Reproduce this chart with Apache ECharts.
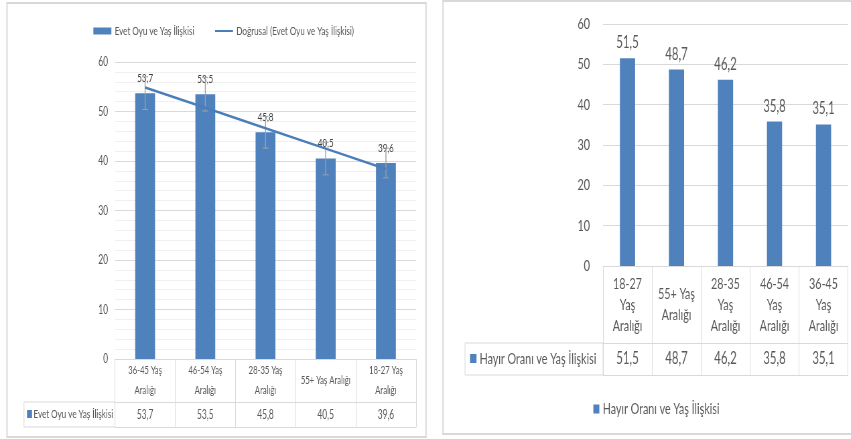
<!DOCTYPE html>
<html>
<head>
<meta charset="utf-8">
<script src="https://cdn.jsdelivr.net/npm/echarts@6/dist/echarts.min.js"></script>
<style>
html,body{margin:0;padding:0;background:#fff;}
#wrap{width:851px;height:439px;overflow:hidden;position:relative;}
#chart{height:439px;transform-origin:0 0;position:absolute;left:0;top:0;}
</style>
</head>
<body>
<div id="wrap"><div id="chart"></div></div>
<script>
// ---- data ----
const evetName = 'Evet Oyu ve Yaş İlişkisi';
const trendName = 'Doğrusal (Evet Oyu ve Yaş İlişkisi)';
const evetCategories = ['36-45 Yaş Aralığı', '46-54 Yaş Aralığı', '28-35 Yaş Aralığı', '55+ Yaş Aralığı', '18-27 Yaş Aralığı'];
const evetValues = [53.7, 53.5, 45.8, 40.5, 39.6];
const evetErrors = [3.3, 3.4, 3.2, 3.3, 3.0];
const hayirName = 'Hayır Oranı ve Yaş İlişkisi';
const hayirCategories = ['18-27 Yaş Aralığı', '55+ Yaş Aralığı', '28-35 Yaş Aralığı', '46-54 Yaş Aralığı', '36-45 Yaş Aralığı'];
const hayirValues = [51.5, 48.7, 46.2, 35.8, 35.1];
const yTicks = {min: 0, max: 60, interval: 10};

// ---- helpers ----
const S = 0.67;                 // horizontal squeeze of the reference picture
const X = v => v / S;
const el = document.getElementById('chart');
el.style.width = X(851) + 'px';
el.style.transform = 'scaleX(' + S + ')';
const fmt = v => v.toFixed(1).replace('.', ',');
const FONT = 'Lato';
const BLUE = '#4f81bd';
const GRID = '#d9d9d9';
const TXT = '#595959';

// greedy word wrap measured with the real font
const ctx = document.createElement('canvas').getContext('2d');
function wrap(text, size, maxW) {
  ctx.font = size + 'px ' + FONT;
  const words = text.split(' ');
  const lines = [];
  let cur = '';
  words.forEach(w => {
    const t = cur ? cur + ' ' + w : w;
    if (cur && ctx.measureText(t).width > maxW) { lines.push(cur); cur = w; }
    else cur = t;
  });
  if (cur) lines.push(cur);
  return lines.join('\n');
}

// linear trend (least squares) of the Evet series
const n = evetValues.length;
const xs = evetValues.map((v, i) => i + 1);
const mx = xs.reduce((a, b) => a + b, 0) / n;
const my = evetValues.reduce((a, b) => a + b, 0) / n;
let sxy = 0, sxx = 0;
xs.forEach((x, i) => { sxy += (x - mx) * (evetValues[i] - my); sxx += (x - mx) * (x - mx); });
const slope = sxy / sxx, icpt = my - slope * mx;
const trendValues = xs.map(x => icpt + slope * x);

const chart = echarts.init(el, null, {renderer: 'canvas'});

function catAxis(grid, data, o) {
  return Object.assign({
    type: 'category', gridIndex: grid, data: data, position: 'bottom',
    axisLine: {show: true, lineStyle: {color: GRID, width: 1}},
    axisTick: {show: false},
    axisLabel: {show: false},
    splitLine: {show: false}
  }, o);
}

const LCAT = 11.5, RCAT = 16;

const option = {
  animation: false,
  textStyle: {fontFamily: FONT},
  legend: [
    {
      data: [{name: evetName, icon: 'rect'}, {name: trendName, itemStyle: {opacity: 0}}],
      left: X(90), top: 20, itemWidth: X(18), itemHeight: 7, itemGap: X(20),
      selectedMode: false,
      textStyle: {fontFamily: FONT, fontSize: 12, color: TXT}
    },
    {
      data: [{name: hayirName, icon: 'rect'}],
      left: X(590), top: 396, itemWidth: X(6), itemHeight: 9,
      selectedMode: false,
      textStyle: {fontFamily: FONT, fontSize: 16, color: TXT}
    }
  ],
  grid: [
    {left: X(115), top: 62, width: X(301), height: 297},
    {left: X(603), top: 24, width: X(245), height: 242}
  ],
  xAxis: [
    catAxis(0, evetCategories, {
      axisTick: {show: true, interval: 0, length: 68, lineStyle: {color: GRID}},
      axisLabel: {show: true, interval: 0, fontFamily: FONT, fontSize: LCAT, color: TXT,
        formatter: v => wrap(v, LCAT, X(57)),
        lineHeight: 20, verticalAlign: 'middle', margin: 21.5}
    }),
    catAxis(0, evetValues.map(fmt), {
      offset: 43,
      axisLabel: {show: true, interval: 0, fontFamily: FONT, fontSize: 12.5, color: TXT,
        verticalAlign: 'middle', margin: 12.5}
    }),
    catAxis(0, evetCategories, {offset: 68}),
    catAxis(1, hayirCategories, {
      axisTick: {show: true, interval: 0, length: 109, lineStyle: {color: GRID}},
      axisLabel: {show: true, interval: 0, fontFamily: FONT, fontSize: RCAT, color: TXT,
        formatter: v => wrap(v, RCAT, X(38)),
        lineHeight: 21, verticalAlign: 'middle', margin: 38.5}
    }),
    catAxis(1, hayirValues.map(fmt), {
      offset: 77,
      axisLabel: {show: true, interval: 0, fontFamily: FONT, fontSize: 17, color: TXT,
        verticalAlign: 'middle', margin: 16}
    }),
    catAxis(1, hayirCategories, {offset: 109})
  ],
  yAxis: [
    {
      type: 'value', gridIndex: 0, min: yTicks.min, max: yTicks.max, interval: yTicks.interval,
      axisLine: {show: false}, axisTick: {show: false},
      axisLabel: {fontFamily: FONT, fontSize: 12.5, color: TXT, margin: X(7)},
      splitLine: {lineStyle: {color: GRID}},
      minorTick: {show: false, splitNumber: 5},
      minorSplitLine: {show: true, lineStyle: {color: '#f0f0f0'}}
    },
    {
      type: 'value', gridIndex: 1, min: yTicks.min, max: yTicks.max, interval: yTicks.interval,
      axisLine: {show: false}, axisTick: {show: false},
      axisLabel: {fontFamily: FONT, fontSize: 16, color: TXT, margin: X(13)},
      splitLine: {lineStyle: {color: GRID}}
    }
  ],
  series: [
    {
      name: evetName, type: 'bar', xAxisIndex: 0, yAxisIndex: 0,
      data: evetValues, barWidth: '33%',
      itemStyle: {color: BLUE},
      label: {show: true, position: 'top', distance: 9, formatter: p => fmt(p.value),
        fontFamily: FONT, fontSize: 12, color: '#404040'},
      z: 2
    },
    {
      name: 'err', type: 'custom', xAxisIndex: 0, yAxisIndex: 0,
      data: evetValues.map((v, i) => [i, v - evetErrors[i], v + evetErrors[i]]),
      renderItem: function (params, api) {
        const lo = api.coord([api.value(0), api.value(1)]);
        const hi = api.coord([api.value(0), api.value(2)]);
        const c = X(3);
        const st = {stroke: '#a0a0a0', lineWidth: 1};
        return {type: 'group', children: [
          {type: 'line', shape: {x1: lo[0], y1: lo[1], x2: hi[0], y2: hi[1]}, style: Object.assign({}, st, {lineWidth: 1.4})},
          {type: 'line', shape: {x1: lo[0] - c, y1: lo[1], x2: lo[0] + c, y2: lo[1]}, style: st},
          {type: 'line', shape: {x1: hi[0] - c, y1: hi[1], x2: hi[0] + c, y2: hi[1]}, style: st}
        ]};
      },
      z: 3, silent: true
    },
    {
      name: trendName, type: 'line', xAxisIndex: 0, yAxisIndex: 0,
      data: trendValues, symbol: 'none',
      lineStyle: {color: '#4a7ebb', width: 2.5},
      itemStyle: {color: '#4a7ebb'},
      z: 4
    },
    {
      name: hayirName, type: 'bar', xAxisIndex: 3, yAxisIndex: 1,
      data: hayirValues, barWidth: '31%',
      itemStyle: {color: BLUE},
      label: {show: true, position: 'top', distance: 7, formatter: p => fmt(p.value),
        fontFamily: FONT, fontSize: 17, color: TXT}
    }
  ],
  graphic: [
    {type: 'rect', shape: {x: X(7), y: 3, width: X(419), height: 434}, style: {fill: 'none', stroke: GRID, lineWidth: 2}, silent: true},
    {type: 'rect', shape: {x: X(443), y: 1, width: X(430), height: 433}, style: {fill: 'none', stroke: GRID, lineWidth: 2}, silent: true},
    {type: 'rect', shape: {x: X(24), y: 402, width: X(91), height: 25}, style: {fill: 'none', stroke: GRID, lineWidth: 1}, silent: true},
    {type: 'rect', shape: {x: X(27), y: 410, width: X(5), height: 8}, style: {fill: BLUE}, silent: true},
    {type: 'text', x: X(33.5), y: 414.5, style: {text: evetName, fontFamily: FONT, fontSize: 12, fill: TXT, verticalAlign: 'middle'}, silent: true},
    {type: 'rect', shape: {x: X(465), y: 343, width: X(138), height: 32}, style: {fill: 'none', stroke: GRID, lineWidth: 1}, silent: true},
    {type: 'rect', shape: {x: X(470), y: 354, width: X(6.5), height: 9}, style: {fill: BLUE}, silent: true},
    {type: 'text', x: X(479.5), y: 359, style: {text: hayirName, fontFamily: FONT, fontSize: 16, fill: TXT, verticalAlign: 'middle'}, silent: true}
  ]
};
chart.setOption(option);
</script>
</body>
</html>
